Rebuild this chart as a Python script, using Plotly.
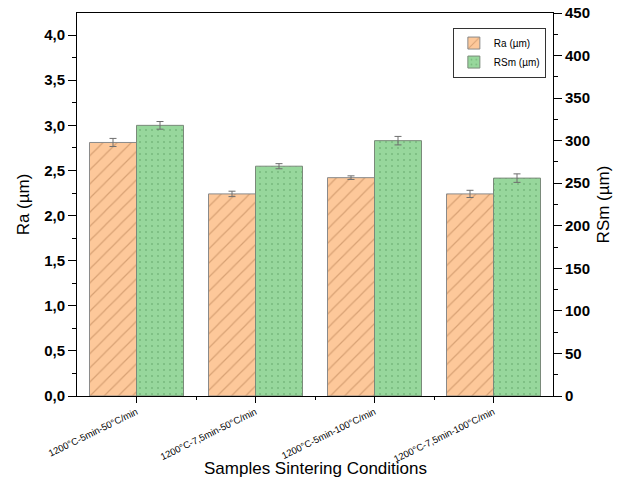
import plotly.graph_objects as go

# Sintering conditions (x categories)
conditions = [
    "1200°C-5min-50°C/min",
    "1200°C-7,5min-50°C/min",
    "1200°C-5min-100°C/min",
    "1200°C-7,5min-100°C/min",
]
# Mean roughness Ra (µm) and its standard deviation
ra_values = [2.81, 2.24, 2.42, 2.24]
ra_errors = [0.045, 0.03, 0.02, 0.04]
# Mean spacing RSm (µm) and its standard deviation
rsm_values = [318, 270, 300, 256]
rsm_errors = [4.5, 3, 5, 5]

x_pos = list(range(len(conditions)))
bar_w = 0.395

fig = go.Figure()

fig.add_trace(go.Bar(
    x=x_pos, y=ra_values, name="Ra (µm)",
    width=bar_w, offset=-bar_w,
    marker=dict(
        color="#FDC89A",
        line=dict(color="#8a8a8a", width=1),
        pattern=dict(shape="/", fgcolor="#B47A4E", size=10, solidity=0.12,
                     fillmode="overlay"),
    ),
    error_y=dict(type="data", array=ra_errors, color="#6e6e6e",
                 thickness=1, width=3.5),
    yaxis="y",
))

fig.add_trace(go.Bar(
    x=x_pos, y=rsm_values, name="RSm (µm)",
    width=bar_w, offset=0,
    marker=dict(
        color="#97D79C",
        line=dict(color="#7a8a7a", width=1),
        pattern=dict(shape=".", fgcolor="#5A9E60", size=6, solidity=0.1,
                     fillmode="overlay"),
    ),
    error_y=dict(type="data", array=rsm_errors, color="#6e6e6e",
                 thickness=1, width=3.5),
    yaxis="y2",
))

font_family = "Liberation Sans, Arial, sans-serif"

fig.update_layout(
    width=629, height=486,
    margin=dict(l=77, r=76, t=13, b=90),
    paper_bgcolor="white", plot_bgcolor="white",
    separators=", ",
    font=dict(family=font_family, color="black"),
    showlegend=True,
    legend=dict(
        x=0.985, y=0.962, xanchor="right", yanchor="top",
        bordercolor="#333333", borderwidth=1, bgcolor="white",
        font=dict(size=10, family=font_family),
        tracegroupgap=0, itemwidth=30,
    ),
    xaxis=dict(
        range=[-0.5, 3.5], automargin=False,
        tickmode="array", tickvals=x_pos, ticktext=conditions,
        tickangle=-26, tickfont=dict(size=9.5, family=font_family),
        ticks="outside", ticklen=6, tickcolor="black",
        minor=dict(tickmode="array", tickvals=[0.5, 1.5, 2.5],
                   ticks="outside", ticklen=3, tickcolor="black"),
        showline=True, linecolor="black", linewidth=1, mirror=True,
        showgrid=False, zeroline=False,
    ),
    yaxis=dict(
        range=[0, 4.245], dtick=0.5, tickformat=".1f", automargin=False,
        tickfont=dict(size=15, family=font_family, weight="bold"),
        ticks="outside", ticklen=8, tickcolor="black",
        minor=dict(dtick=0.25, ticks="outside", ticklen=4, tickcolor="black"),
        showline=True, linecolor="black", linewidth=1,
        showgrid=False, zeroline=False,
        title=dict(text="Ra (µm)", font=dict(size=17, family=font_family),
                   standoff=10),
    ),
    yaxis2=dict(
        range=[0, 450], dtick=50, overlaying="y", side="right",
        automargin=False,
        tickfont=dict(size=15, family=font_family, weight="bold"),
        ticks="outside", ticklen=8, tickcolor="black",
        minor=dict(dtick=25, ticks="outside", ticklen=4, tickcolor="black"),
        showline=True, linecolor="black", linewidth=1,
        showgrid=False, zeroline=False,
        title=dict(text="RSm (µm)", font=dict(size=17, family=font_family),
                   standoff=8),
    ),
    annotations=[dict(
        text="Samples Sintering Conditions",
        xref="paper", yref="paper", x=0.5, y=-0.19,
        xanchor="center", yanchor="middle", showarrow=False,
        font=dict(size=17, family=font_family),
    )],
)

fig.write_html("out.html")
